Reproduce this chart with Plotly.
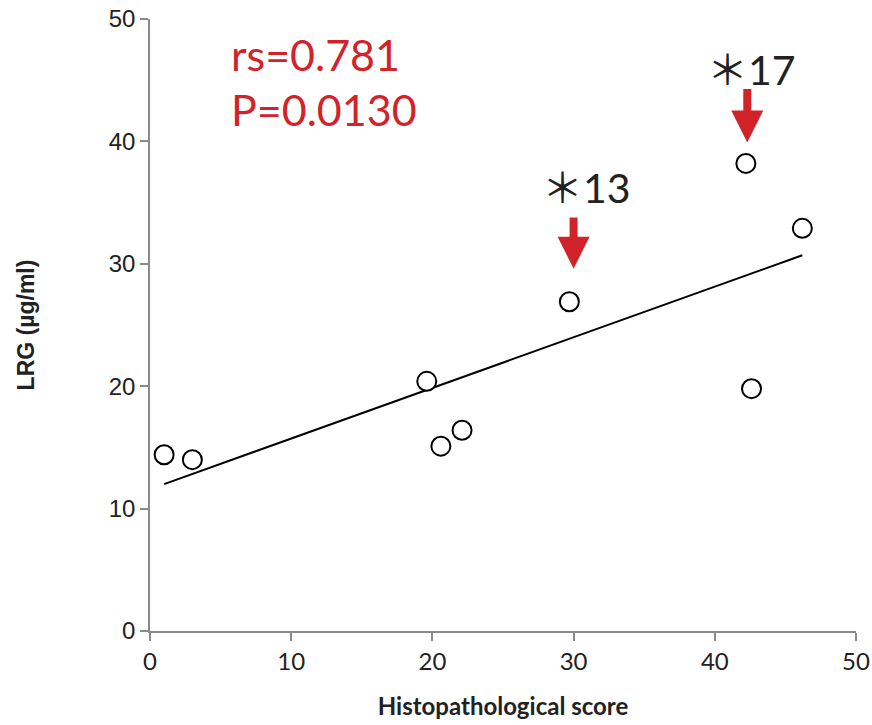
import plotly.graph_objects as go

# Data
hist_score = [1.0, 3.0, 19.6, 20.6, 22.1, 29.7, 42.2, 42.6, 46.2]
lrg = [14.4, 14.0, 20.4, 15.1, 16.4, 26.9, 38.2, 19.8, 32.9]

fit_x = [1.0, 46.2]
fit_y = [12.0, 30.7]

x_ticks = [0, 10, 20, 30, 40, 50]
y_ticks = [0, 10, 20, 30, 40, 50]

stat_lines = ["rs=0.781", "P=0.0130"]
stat_y = [47.1, 42.6]

# highlighted cases
case_labels = ["13", "17"]
case_arrow_x = [30.0, 42.3]
case_arrow_tip = [29.6, 39.9]
case_arrow_tail = [33.9, 44.4]
case_label_x = [30.9, 42.6]
case_label_y = [36.4, 46.1]

RED = "#d2232a"
AXIS = "#8a8a8a"
CAL = "Lato, 'Open Sans', sans-serif"
ARI = "'Liberation Sans', Arial, sans-serif"

fig = go.Figure()
fig.add_trace(go.Scatter(x=fit_x, y=fit_y, mode="lines",
                         line=dict(color="black", width=2), showlegend=False,
                         hoverinfo="skip"))
fig.add_trace(go.Scatter(x=hist_score, y=lrg, mode="markers",
                         marker=dict(symbol="circle", size=19, color="white",
                                     line=dict(color="black", width=2)),
                         showlegend=False))

annotations = []
for t, yy in zip(stat_lines, stat_y):
    annotations.append(dict(x=5.6, y=yy, xref="x", yref="y",
                            text=t, showarrow=False, xanchor="left",
                            font=dict(family=CAL, size=43, color=RED)))
for lab, ax_, tip, tail, lx, ly in zip(case_labels, case_arrow_x, case_arrow_tip,
                                       case_arrow_tail, case_label_x, case_label_y):
    annotations.append(dict(x=ax_, y=tip, ax=ax_, ay=tail, xref="x", yref="y",
                            axref="x", ayref="y", text="", showarrow=True,
                            arrowhead=2, arrowsize=0.8, arrowwidth=8,
                            arrowcolor=RED))
    annotations.append(dict(x=lx, y=ly, xref="x", yref="y", showarrow=False,
                            text="<span style='font-family:\"Noto Sans CJK JP\"'>＊</span>" + lab,
                            font=dict(family=CAL, size=41, color="#222222")))

fig.update_layout(
    width=872, height=725,
    margin=dict(l=150, r=16, t=19, b=94, autoexpand=False),
    paper_bgcolor="white", plot_bgcolor="white",
    annotations=annotations,
    xaxis=dict(range=[0, 50], tickvals=x_ticks, showgrid=False, zeroline=False,
               automargin=False, ticklabeloverflow="allow",
               showline=True, linecolor=AXIS, linewidth=1.5,
               ticks="outside", ticklen=8, tickcolor=AXIS, tickwidth=1.5,
               tickfont=dict(family=CAL, size=24, color="#222"),
               title=dict(text="<b>Histopathological score</b>", standoff=25,
                          font=dict(family=CAL, size=24, color="#222"))),
    yaxis=dict(range=[0, 50], tickvals=y_ticks, showgrid=False, zeroline=False,
               automargin=False, ticklabeloverflow="allow",
               showline=True, linecolor=AXIS, linewidth=1.5,
               ticks="outside", ticklen=8, tickcolor=AXIS, tickwidth=1.5,
               tickfont=dict(family=ARI, size=24, color="#222"),
               title=dict(text="<b>LRG (µg/ml)</b>", standoff=68,
                          font=dict(family=ARI, size=23, color="#222"))),
)

fig.write_html("out.html", config={"displayModeBar": False},
               post_script="document.body.style.margin='0px';document.body.style.overflow='hidden';")
